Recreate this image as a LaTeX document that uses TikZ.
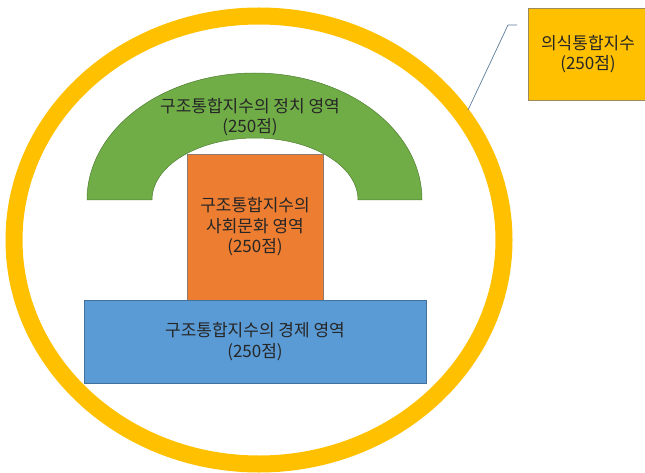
\documentclass[tikz,border=0pt]{standalone}
\usepackage{fontspec}
\setmainfont{Noto Sans CJK KR}
\definecolor{ringgold}{HTML}{FFC000}
\definecolor{archgreen}{HTML}{70AD47}
\definecolor{archline}{HTML}{507E32}
\definecolor{boxorange}{HTML}{ED7D31}
\definecolor{orangeline}{HTML}{8E7A6E}
\definecolor{boxblue}{HTML}{5B9BD5}
\definecolor{blueline}{HTML}{41719C}
\definecolor{calloutline}{HTML}{5B7A99}
\definecolor{goldline}{HTML}{9C8A5A}
\begin{document}
\begin{tikzpicture}[x=1pt,y=-1pt,
  lbl/.style={font=\fontsize{17pt}{20.5pt}\selectfont, align=center, text=black!85},
  area/.style={draw, line width=0.6pt, inner sep=0pt, lbl}]
\useasboundingbox (0,0) rectangle (645,473);
% outer ring
\draw[ringgold, line width=17pt] (259,240) ellipse [x radius=245pt, y radius=224pt];
% callout box
\node[area, fill=ringgold, draw=goldline, minimum width=120pt, minimum height=92pt] (cons) at (588,54) {의식통합지수\\(250점)};
\coordinate (c1) at (517,25);
\coordinate (c2) at (508,25);
\coordinate (c3) at (468,110);
\draw[calloutline, line width=0.7pt] (c1) -- (c2) -- (c3);
% green arch
\draw[fill=archgreen, draw=archline, line width=0.5pt]
  (87,200) arc[start angle=180, end angle=0, x radius=167.5pt, y radius=127pt]
  -- (358,200) arc[start angle=0, end angle=180, x radius=103pt, y radius=62pt] -- cycle;
\node[lbl] (polt) at (250,117) {구조통합지수의 정치 영역\\(250점)};
% orange box
\node[area, fill=boxorange, draw=orangeline, minimum width=136pt, minimum height=146pt] (soc) at (255,227) {구조통합지수의\\사회문화 영역\\(250점)};
% blue box
\node[area, fill=boxblue, draw=blueline, minimum width=342pt, minimum height=83pt] (eco) at (255,341.5) {구조통합지수의 경제 영역\\(250점)};
\end{tikzpicture}
\end{document}
